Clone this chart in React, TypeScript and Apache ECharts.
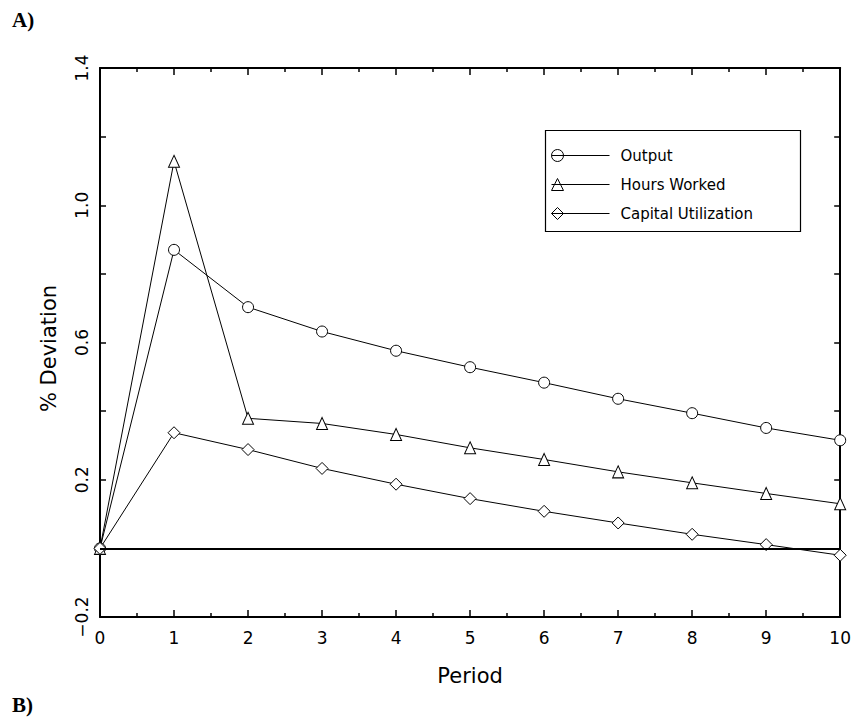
import React, { useEffect, useRef } from 'react';
import * as echarts from 'echarts';

const periods = [0, 1, 2, 3, 4, 5, 6, 7, 8, 9, 10];
const outputValues = [0, 0.87, 0.703, 0.632, 0.576, 0.528, 0.483, 0.436, 0.394, 0.351, 0.315];
const hoursValues = [0, 1.128, 0.379, 0.364, 0.332, 0.293, 0.259, 0.223, 0.191, 0.16, 0.13];
const capitalValues = [0, 0.337, 0.288, 0.233, 0.187, 0.145, 0.108, 0.074, 0.041, 0.011, -0.02];
const seriesNames = ['Output', 'Hours Worked', 'Capital Utilization'];
const yLabelValues = [-0.2, 0.2, 0.6, 1.0, 1.4];

const legendIcons = [
  'path://M0,6 L58,6 M0,6 A6,6 0 1,1 12,6 A6,6 0 1,1 0,6 Z',
  'path://M0,6 L58,6 M0,12 L6,0 L12,12 Z',
  'path://M0,6 L58,6 M0,6 L6,0 L12,6 L6,12 Z',
];

export default function App() {
  const ref = useRef<HTMLDivElement>(null);
  useEffect(() => {
    const chart = echarts.init(ref.current!, null, { renderer: 'svg' });
    const font = 'DejaVu Sans';
    const pairs = (vals: number[]) => periods.map((p, i) => [p, vals[i]]);
    const axisLine = { show: true, onZero: false, lineStyle: { color: '#000', width: 2 } };
    const tick = { show: true, inside: true, length: 7, lineStyle: { color: '#000', width: 1.5 } };
    const minor = { show: true, splitNumber: 2, length: 4, lineStyle: { color: '#000', width: 1.5 } };
    const xBase: any = {
      type: 'value', min: 0, max: 10, interval: 1,
      splitLine: { show: false }, axisLine, axisTick: tick, minorTick: minor,
    };
    const yBase: any = {
      type: 'value', min: -0.2, max: 1.4, interval: 0.2,
      splitLine: { show: false }, axisLine, axisTick: { ...tick, length: 6 },
    };
    const symbols = ['circle', 'triangle', 'diamond'];
    const sizes: any[] = [11, [11, 12], [12, 12]];
    const data = [outputValues, hoursValues, capitalValues];
    const series: any[] = seriesNames.map((name, i) => ({
      name,
      type: 'line',
      xAxisIndex: 0,
      yAxisIndex: 0,
      data: pairs(data[i]),
      symbol: symbols[i],
      symbolSize: sizes[i],
      showAllSymbol: true,
      lineStyle: { color: '#000', width: 1 },
      itemStyle: { color: '#fff', borderColor: '#000', borderWidth: 1 },
      emphasis: { disabled: true },
      z: 3,
    }));
    series[0].markLine = {
      silent: true,
      symbol: ['none', 'none'],
      label: { show: false },
      lineStyle: { color: '#000', width: 2, type: 'solid' },
      data: [{ yAxis: 0 }],
    };
    chart.setOption({
      animation: false,
      backgroundColor: '#fff',
      title: {
        text: 'A)', left: 12, top: 9, padding: 0,
        textStyle: { fontFamily: 'Liberation Serif', fontWeight: 'bold', fontSize: 21, color: '#000' },
      },
      grid: { left: 100, top: 68, right: 13, bottom: 102 },
      legend: {
        orient: 'vertical', left: 549, top: 147, padding: 0,
        itemWidth: 58, itemHeight: 12, itemGap: 12, selectedMode: false,
        itemStyle: { color: 'none', borderColor: '#000', borderWidth: 1 },
        textStyle: { fontFamily: font, fontSize: 15, color: '#000', padding: [0, 0, 0, 6] },
        data: seriesNames.map((name, i) => ({ name, icon: legendIcons[i] })),
      },
      xAxis: [
        {
          ...xBase, position: 'bottom',
          name: 'Period', nameLocation: 'middle', nameGap: 48,
          nameTextStyle: { fontFamily: font, fontSize: 21, color: '#000' },
          axisLabel: { show: true, margin: 12, fontFamily: font, fontSize: 17, color: '#000' },
        },
        { ...xBase, position: 'top', axisLabel: { show: false } },
      ],
      yAxis: [
        {
          ...yBase, position: 'left',
          name: '% Deviation', nameLocation: 'middle', nameGap: 41,
          nameTextStyle: { fontFamily: font, fontSize: 21, color: '#000', padding: [0, 12, 0, 0] },
          axisLabel: {
            show: true, rotate: 90, margin: 10, fontFamily: font, fontSize: 17, color: '#000',
            formatter: (v: number) =>
              yLabelValues.some((t) => Math.abs(t - v) < 1e-6)
                ? v.toFixed(1).replace('-', '\u2212')
                : '',
          },
        },
        { ...yBase, position: 'right', axisLabel: { show: false } },
      ],
      graphic: [
        {
          type: 'rect', left: 543, top: 128, z: 1,
          shape: { width: 255, height: 101 },
          style: { fill: 'none', stroke: '#000', lineWidth: 1.2 },
        },
        {
          type: 'text', left: 12, top: 694,
          style: { text: 'B)', font: 'bold 21px "Liberation Serif"', fill: '#000' },
        },
      ],
      series,
    });
    return () => chart.dispose();
  }, []);
  return (
    <div
      ref={ref}
      style={{ position: 'fixed', left: 0, top: 0, width: 854, height: 719, background: '#fff' }}
    />
  );
}
